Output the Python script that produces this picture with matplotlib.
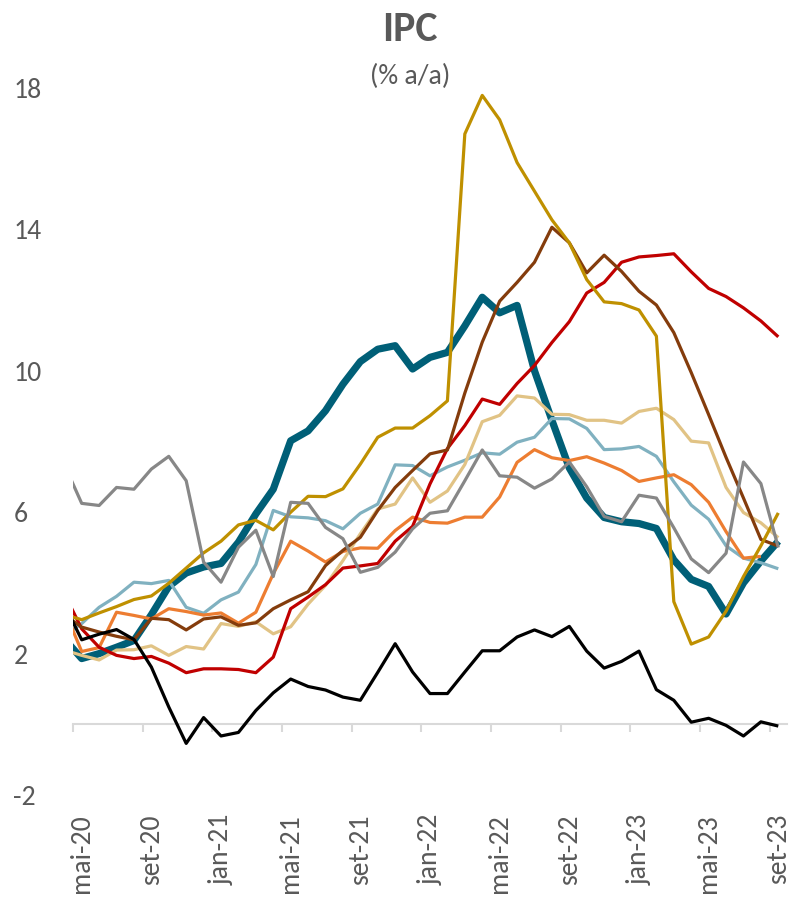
import numpy as np
import matplotlib
matplotlib.use("Agg")
import matplotlib.pyplot as plt
from matplotlib import font_manager
import matplotlib.transforms as mtransforms


def pick_font(names):
    # first family that is really installed
    for n in names:
        try:
            font_manager.findfont(n, fallback_to_default=False)
            return n
        except ValueError:
            pass
    return "DejaVu Sans"


FONT = pick_font(["Carlito", "Lato", "Open Sans"])
plt.rcParams["font.family"] = [FONT, "DejaVu Sans"]

TEXT = "#595959"

# monthly values, abr-20 .. set-23 (abr-20 only shows as a clipped half segment)
tick_labels = ["mai-20", "set-20", "jan-21", "mai-21", "set-21", "jan-22",
               "mai-22", "set-22", "jan-23", "mai-23", "set-23"]

teal = [2.42, 1.86, 2.0, 2.18, 2.37, 3.1, 3.9, 4.28, 4.45, 4.55, 5.15, 5.95, 6.65,
        8.02, 8.3, 8.87, 9.62, 10.26, 10.61, 10.71, 10.05, 10.38, 10.52, 11.27,
        12.08, 11.64, 11.85, 10.0, 8.6, 7.25, 6.4, 5.85, 5.73, 5.68, 5.54, 4.65,
        4.1, 3.9, 3.12, 4.0, 4.62, 5.18]
red = [3.7, 2.7, 2.18, 1.95, 1.86, 1.92, 1.73, 1.46, 1.57, 1.57, 1.55, 1.46, 1.9,
       3.27, 3.6, 3.95, 4.42, 4.48, 4.55, 5.18, 5.6, 6.8, 7.8, 8.45, 9.2, 9.05,
       9.64, 10.15, 10.8, 11.39, 12.2, 12.5, 13.07, 13.22, 13.26, 13.31, 12.8,
       12.33, 12.1, 11.78, 11.41, 10.96]
gold = [3.1, 2.96, 3.15, 3.33, 3.53, 3.63, 3.99, 4.42, 4.85, 5.18, 5.64, 5.77,
        5.5, 6.0, 6.45, 6.44, 6.66, 7.36, 8.12, 8.38, 8.38, 8.73, 9.15, 16.7,
        17.79, 17.1, 15.89, 15.08, 14.27, 13.62, 12.58, 11.95, 11.9, 11.72,
        10.98, 3.47, 2.27, 2.47, 3.2, 4.18, 5.05, 5.98]
brown = [3.1, 2.75, 2.61, 2.49, 2.39, 3.0, 2.96, 2.67, 2.98, 3.04, 2.8, 2.87,
         3.27, 3.52, 3.75, 4.49, 4.92, 5.29, 6.05, 6.7, 7.18, 7.65, 7.76, 9.37,
         10.81, 11.97, 12.5, 13.07, 14.06, 13.62, 12.77, 13.27, 12.81, 12.25,
         11.86, 11.08, 9.95, 8.76, 7.55, 6.4, 5.23, 5.04]
orange = [3.24, 2.06, 2.17, 3.17, 3.08, 2.98, 3.27, 3.19, 3.09, 3.15, 2.86, 3.17,
          4.26, 5.18, 4.9, 4.59, 4.89, 4.99, 4.98, 5.48, 5.86, 5.71, 5.69, 5.86,
          5.86, 6.43, 7.41, 7.77, 7.54, 7.46, 7.57, 7.39, 7.18, 6.87, 6.97, 7.06,
          6.78, 6.28, 5.45, 4.7, 4.75, np.nan]
lightblue = [2.5, 2.85, 3.31, 3.62, 4.02, 3.98, 4.07, 3.31, 3.14, 3.52, 3.74, 4.52,
             6.05, 5.87, 5.84, 5.76, 5.53, 5.97, 6.23, 7.34, 7.32, 7.03, 7.28, 7.47,
             7.68, 7.64, 7.98, 8.12, 8.65, 8.64, 8.37, 7.77, 7.79, 7.86, 7.58, 6.86,
             6.2, 5.8, 5.05, 4.7, 4.57, 4.4]
tan = [2.1, 1.95, 1.82, 2.1, 2.11, 2.22, 1.95, 2.2, 2.13, 2.85, 2.77, 2.9, 2.56,
       2.76, 3.4, 3.93, 4.63, 5.39, 6.09, 6.23, 6.97, 6.28, 6.6, 7.35, 8.56, 8.74,
       9.29, 9.23, 8.77, 8.76, 8.6, 8.6, 8.52, 8.85, 8.94, 8.62, 8.01, 7.96, 6.7,
       5.99, 5.7, 5.28]
gray = [7.35, 6.25, 6.19, 6.7, 6.65, 7.22, 7.58, 6.89, 4.59, 4.02, 5.01, 5.49,
        4.18, 6.28, 6.25, 5.57, 5.25, 4.3, 4.44, 4.87, 5.53, 5.97, 6.04, 6.89,
        7.76, 7.03, 6.99, 6.68, 6.94, 7.42, 6.72, 5.88, 5.73, 6.48, 6.4, 5.56,
        4.68, 4.29, 4.84, 7.42, 6.81, 5.0]
black = [3.39, 2.39, 2.55, 2.68, 2.4, 1.62, 0.49, -0.54, 0.19, -0.33, -0.23, 0.39,
         0.89, 1.28, 1.07, 0.97, 0.77, 0.68, 1.47, 2.28, 1.48, 0.87, 0.87, 1.48,
         2.08, 2.08, 2.47, 2.67, 2.48, 2.77, 2.07, 1.59, 1.78, 2.07, 0.98, 0.68,
         0.06, 0.17, -0.03, -0.33, 0.07, -0.05]

# points sit in the middle of each month, month 0 = mai-20
x = np.arange(len(teal)) - 0.5

fig = plt.figure(figsize=(7.96, 9.06), dpi=100)
ax = fig.add_axes([0.0917, 0.1225, 0.8970, 0.7804])

series = [
    (teal, "#005F77", 5.2),
    (lightblue, "#80B1C0", 2.3),
    (orange, "#ED7D31", 2.3),
    (tan, "#E1C385", 2.3),
    (red, "#C00000", 2.3),
    (brown, "#843C0C", 2.3),
    (gold, "#BF9000", 2.3),
    (gray, "#878787", 2.3),
    (black, "#000000", 2.3),
]
for vals, col, lw in series:
    ax.plot(x, vals, color=col, lw=lw, solid_joinstyle="round",
            solid_capstyle="butt")

ax.set_xlim(0, 41)
ax.set_ylim(-2, 18)

for s in ["top", "right", "left"]:
    ax.spines[s].set_visible(False)
ax.spines["bottom"].set_position(("data", 0))
ax.spines["bottom"].set_color("#D9D9D9")
ax.spines["bottom"].set_linewidth(1.5)
ax.spines["bottom"].set_zorder(0.5)

ax.set_xticks(np.arange(0, 41, 4))
ax.tick_params(axis="x", direction="out", length=6, width=1.5, color="#D9D9D9",
               labelbottom=False)

ax.set_yticks([-2, 2, 6, 10, 14, 18])
ax.set_yticklabels(["-2", "2", "6", "10", "14", "18"])
ax.tick_params(axis="y", length=0, pad=43, labelsize=20, labelcolor=TEXT)
plt.setp(ax.get_yticklabels(), ha="left")

# month labels under the plot, centred on the month
trans = mtransforms.blended_transform_factory(ax.transData, ax.transAxes)
for i, lab in enumerate(tick_labels):
    ax.text(4 * i + 0.5, -0.027, lab, transform=trans, rotation=90,
            ha="center", va="top", fontsize=20, color=TEXT)

fig.text(0.515, 0.967, "IPC", ha="center", va="center", fontsize=30,
         fontweight="bold", color=TEXT)
fig.text(0.515, 0.916, "(% a/a)", ha="center", va="center", fontsize=20,
         color=TEXT)

fig.savefig("out.png", dpi=100)
